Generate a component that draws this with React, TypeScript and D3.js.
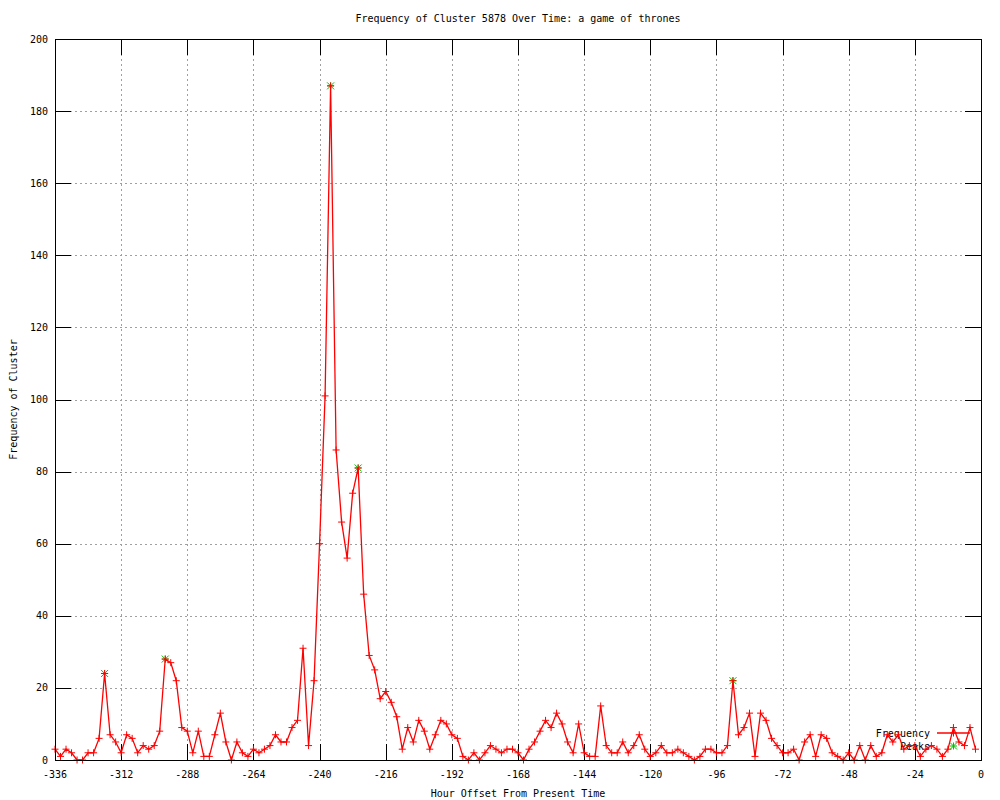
import { useEffect, useRef } from 'react';
import * as d3 from 'd3';

// hourly offsets sampled every 2 hours, first sample at -336
const START_HOUR = -336;
const STEP_HOURS = 2;

// frequency per sample, one row = 24 hours
const frequency = [
  3, 1, 3, 2, 0, 0, 2, 2, 6, 24, 7, 5,
  2, 7, 6, 2, 4, 3, 4, 8, 28, 27, 22, 9,
  8, 2, 8, 1, 1, 7, 13, 5, 0, 5, 2, 1,
  3, 2, 3, 4, 7, 5, 5, 9, 11, 31, 4, 22,
  60, 101, 187, 86, 66, 56, 74, 81, 46, 29, 25, 17,
  19, 16, 12, 3, 9, 5, 11, 8, 3, 7, 11, 10,
  7, 6, 1, 0, 2, 0, 2, 4, 3, 2, 3, 3,
  2, 0, 3, 5, 8, 11, 9, 13, 10, 5, 2, 10,
  2, 1, 1, 15, 4, 2, 2, 5, 2, 4, 7, 3,
  1, 2, 4, 2, 2, 3, 2, 1, 0, 1, 3, 3,
  2, 2, 4, 22, 7, 9, 13, 1, 13, 11, 6, 4,
  2, 2, 3, 0, 5, 7, 1, 7, 6, 2, 1, 0,
  2, 0, 4, 0, 4, 1, 2, 7, 5, 7, 3, 4,
  4, 1, 3, 4, 3, 1, 3, 9, 5, 4, 9, 3,
];

const peakHours = [-318, -296, -236, -226, -90];
const peakValues = [24, 28, 187, 81, 22];

const xTicks = [-336, -312, -288, -264, -240, -216, -192, -168, -144, -120, -96, -72, -48, -24, 0];
const yTicks = [0, 20, 40, 60, 80, 100, 120, 140, 160, 180, 200];

const FONT = '"DejaVu Sans Mono", monospace';

function plusPath(x: number, y: number, s: number) {
  return `M${x - s},${y}H${x + s}M${x},${y - s}V${y + s}`;
}
function starPath(x: number, y: number, s: number) {
  return plusPath(x, y, s) + `M${x - s},${y - s}L${x + s},${y + s}M${x - s},${y + s}L${x + s},${y - s}`;
}

export default function App() {
  const svgRef = useRef<SVGSVGElement>(null);

  useEffect(() => {
    if (!svgRef.current) return;
    const svg = d3.select(svgRef.current);
    svg.selectAll('*').remove();

    const left = 55, right = 981, top = 39, bottom = 760;
    const x = d3.scaleLinear().domain([-336, 0]).range([left, right]);
    const y = d3.scaleLinear().domain([0, 200]).range([bottom, top]);

    svg.append('rect').attr('width', 1000).attr('height', 800).attr('fill', '#fff');

    // grid
    const grid = svg.append('g').attr('stroke', '#a0a0a0').attr('stroke-dasharray', '2,3').attr('shape-rendering', 'crispEdges');
    xTicks.filter(t => t > -336 && t < 0).forEach(t => {
      grid.append('line').attr('x1', x(t) + 0.5).attr('x2', x(t) + 0.5).attr('y1', top).attr('y2', bottom);
    });
    yTicks.filter(t => t > 0 && t < 200).forEach(t => {
      grid.append('line').attr('x1', left).attr('x2', right).attr('y1', y(t) + 0.5).attr('y2', y(t) + 0.5);
    });

    // ticks (mirrored on all sides)
    const tk = svg.append('g').attr('stroke', '#000').attr('shape-rendering', 'crispEdges');
    const TL = 16;
    xTicks.forEach(t => {
      const px = Math.round(x(t)) + 0.5;
      tk.append('line').attr('x1', px).attr('x2', px).attr('y1', bottom).attr('y2', bottom - TL);
      tk.append('line').attr('x1', px).attr('x2', px).attr('y1', top).attr('y2', top + TL);
    });
    yTicks.forEach(t => {
      const py = Math.round(y(t)) + 0.5;
      tk.append('line').attr('x1', left).attr('x2', left + TL).attr('y1', py).attr('y2', py);
      tk.append('line').attr('x1', right).attr('x2', right - TL).attr('y1', py).attr('y2', py);
    });

    // tick labels
    const lbl = svg.append('g').attr('font-family', FONT).attr('font-size', 10).attr('fill', '#000');
    xTicks.forEach(t => {
      lbl.append('text').attr('x', x(t)).attr('y', 778).attr('text-anchor', 'middle').text(String(t));
    });
    yTicks.forEach(t => {
      lbl.append('text').attr('x', 48).attr('y', y(t) + 3.5).attr('text-anchor', 'end').text(String(t));
    });

    // titles
    lbl.append('text').attr('x', (left + right) / 2).attr('y', 22).attr('text-anchor', 'middle')
      .text('Frequency of Cluster 5878 Over Time: a game of thrones');
    lbl.append('text').attr('x', (left + right) / 2).attr('y', 797).attr('text-anchor', 'middle')
      .text('Hour Offset From Present Time');
    lbl.append('text').attr('transform', `translate(17, ${(top + bottom) / 2}) rotate(-90)`).attr('text-anchor', 'middle')
      .text('Frequency of Cluster');

    // peaks (green stars)
    const green = '#00c000';
    svg.append('g').attr('stroke', green).attr('fill', 'none')
      .selectAll('path').data(peakHours).join('path')
      .attr('d', (h, i) => starPath(x(h), y(peakValues[i]), 3.5));

    // frequency line + points
    const pts = frequency.map((v, i) => ({ h: START_HOUR + i * STEP_HOURS, v }));
    const line = d3.line<{ h: number; v: number }>().x(d => x(d.h)).y(d => y(d.v));
    svg.append('path').datum(pts).attr('d', line).attr('fill', 'none').attr('stroke', '#ff0000').attr('stroke-width', 1.3);
    svg.append('g').attr('stroke', '#ff0000').attr('fill', 'none')
      .selectAll('path').data(pts).join('path')
      .attr('d', d => plusPath(x(d.h), y(d.v), 3.5));

    // legend
    lbl.append('text').attr('x', 930).attr('y', 737).attr('text-anchor', 'end').text('Frequency');
    lbl.append('text').attr('x', 930).attr('y', 750).attr('text-anchor', 'end').text('Peaks');
    svg.append('line').attr('x1', 937).attr('x2', 970).attr('y1', 733).attr('y2', 733).attr('stroke', '#ff0000').attr('stroke-width', 1.3);
    svg.append('path').attr('d', plusPath(953.5, 733, 3.5)).attr('stroke', '#ff0000');
    svg.append('path').attr('d', starPath(953.5, 746, 3.5)).attr('stroke', green);

    // border
    svg.append('rect').attr('x', left + 0.5).attr('y', top + 0.5).attr('width', right - left).attr('height', bottom - top)
      .attr('fill', 'none').attr('stroke', '#000').attr('shape-rendering', 'crispEdges');
  }, []);

  return (
    <svg ref={svgRef} width={1000} height={800}
      style={{ position: 'absolute', left: 0, top: 0, display: 'block' }} />
  );
}
